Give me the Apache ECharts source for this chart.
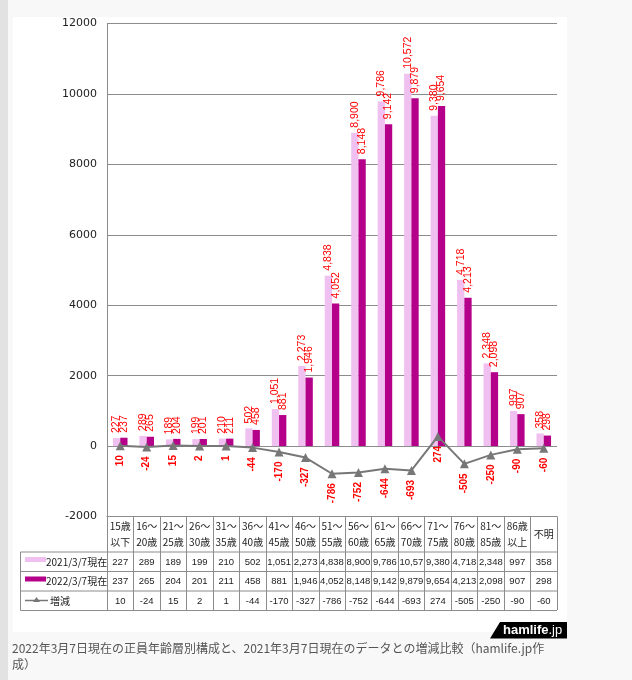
<!DOCTYPE html>
<html><head><meta charset="utf-8">
<script src="https://cdn.jsdelivr.net/npm/echarts@6/dist/echarts.min.js"></script>
<style>
html,body{margin:0;padding:0;background:#f8f8f8;}
#strip{position:absolute;left:0;top:0;width:8px;height:680px;background:#e2e2e2;}
#panel{position:absolute;left:13px;top:17px;width:554px;height:615px;background:#ffffff;}
#chart{position:absolute;left:0;top:0;width:632px;height:680px;}
</style></head>
<body>
<div id="strip"></div><div id="panel"></div><div id="chart"></div>
<script>
const categories = ['15歳\n以下','16～\n20歳','21～\n25歳','26～\n30歳','31～\n35歳','36～\n40歳','41～\n45歳','46～\n50歳','51～\n55歳','56～\n60歳','61～\n65歳','66～\n70歳','71～\n75歳','76～\n80歳','81～\n85歳','86歳\n以上','不明'];
const v2021 = [227,289,189,199,210,502,1051,2273,4838,8900,9786,10572,9380,4718,2348,997,358];
const v2022 = [237,265,204,201,211,458,881,1946,4052,8148,9142,9879,9654,4213,2098,907,298];
const diff = [10,-24,15,2,1,-44,-170,-327,-786,-752,-644,-693,274,-505,-250,-90,-60];
const seriesNames = ['2021/3/7現在','2022/3/7現在','増減'];
const yMin = -2000, yMax = 12000, yStep = 2000;
const caption = '2022年3月7日現在の正員年齢層別構成と、2021年3月7日現在のデータとの増減比較（hamlife.jp作\n成）';

const fmt = v => v.toLocaleString('en-US');
const PINK = '#f0c0f0', MAG = '#b5008a', GREY = '#777777', LINE = '#8c8c8c';
const CJK = '"Noto Sans CJK JP", sans-serif';
const LIB = '"Liberation Sans", sans-serif';

const chart = echarts.init(document.getElementById('chart'), null, {renderer:'canvas'});

function rowAxis(values, offset){
  return {
    type:'category', data: values.map(fmt), position:'bottom', offset: offset, gridIndex:0,
    axisLine:{show:false}, axisTick:{show:false}, splitLine:{show:false},
    axisLabel:{interval:0, margin:0, verticalAlign:'middle', color:'#222', fontSize:9.5, fontFamily:LIB,
      width:27, overflow:'truncate', ellipsis:''}
  };
}

const option = {
  animation:false,
  backgroundColor:'transparent',
  grid:{left:107, right:75, top:23.5, bottom:163.5, containLabel:false},
  xAxis:[
    {type:'category', data:categories, position:'bottom',
     axisLine:{show:true, onZero:false, lineStyle:{color:LINE, width:1}},
     axisTick:{show:true, length:93.5, interval:0, lineStyle:{color:LINE, width:1}},
     axisLabel:{interval:0, margin:17.5, verticalAlign:'middle', lineHeight:16, color:'#222', fontSize:10, fontFamily:CJK},
     splitLine:{show:false}},
    rowAxis(v2021, 45.5),
    rowAxis(v2022, 65),
    rowAxis(diff, 84.5)
  ],
  yAxis:{type:'value', min:yMin, max:yMax, interval:yStep,
    axisLine:{show:true, lineStyle:{color:LINE, width:1}},
    axisTick:{show:false},
    axisLabel:{margin:10, color:'#222', fontSize:11, fontFamily:'"DejaVu Sans", sans-serif', formatter:v=>String(v)},
    splitLine:{show:true, lineStyle:{color:LINE, width:1}}},
  series:[
    {name:seriesNames[0], type:'bar', data:v2021, barGap:'0%', barCategoryGap:'45%',
     itemStyle:{color:PINK},
     label:{show:true, position:'top', rotate:90, align:'left', verticalAlign:'middle', distance:5,
       color:'#ff0000', fontSize:10.5, fontFamily:LIB, formatter:p=>fmt(p.value)}},
    {name:seriesNames[1], type:'bar', data:v2022, barGap:'0%', barCategoryGap:'45%',
     itemStyle:{color:MAG},
     label:{show:true, position:'top', rotate:90, align:'left', verticalAlign:'middle', distance:5,
       color:'#ff0000', fontSize:10.5, fontFamily:LIB, formatter:p=>fmt(p.value)}},
    {name:seriesNames[2], type:'line', data:diff, z:5,
     symbol:'triangle', symbolSize:9, itemStyle:{color:GREY}, lineStyle:{color:GREY, width:2},
     label:{show:true, position:'bottom', rotate:90, align:'right', verticalAlign:'middle', distance:5,
       color:'#ff0000', fontSize:10, fontWeight:'bold', fontFamily:LIB}}
  ],
  graphic:[
    {type:'line', shape:{x1:20.5, y1:552, x2:557, y2:552}, style:{stroke:LINE, lineWidth:1}},
    {type:'line', shape:{x1:20.5, y1:571.5, x2:557, y2:571.5}, style:{stroke:LINE, lineWidth:1}},
    {type:'line', shape:{x1:20.5, y1:591, x2:557, y2:591}, style:{stroke:LINE, lineWidth:1}},
    {type:'line', shape:{x1:20.5, y1:610.5, x2:557, y2:610.5}, style:{stroke:LINE, lineWidth:1}},
    {type:'line', shape:{x1:20.5, y1:552, x2:20.5, y2:610.5}, style:{stroke:LINE, lineWidth:1}},
    {type:'rect', shape:{x:25, y:557, width:21, height:5}, style:{fill:PINK}},
    {type:'text', x:46, y:562, style:{text:seriesNames[0], fill:'#222', font:'10px "Noto Sans CJK JP"', textVerticalAlign:'middle'}},
    {type:'rect', shape:{x:25, y:576.5, width:21, height:5}, style:{fill:MAG}},
    {type:'text', x:46, y:581.5, style:{text:seriesNames[1], fill:'#222', font:'10px "Noto Sans CJK JP"', textVerticalAlign:'middle'}},
    {type:'line', shape:{x1:25, y1:600.5, x2:48, y2:600.5}, style:{stroke:GREY, lineWidth:1.5}},
    {type:'polygon', shape:{points:[[36.5,597],[40,602],[33,602]]}, style:{fill:GREY}},
    {type:'text', x:50, y:601, style:{text:seriesNames[2], fill:'#222', font:'10px "Noto Sans CJK JP"', textVerticalAlign:'middle'}},
    {type:'polygon', shape:{points:[[490,638.5],[500,622],[567,622],[567,638.5]]}, style:{fill:'#000'}},
    {type:'text', x:503, y:630.5, style:{text:'{a|hamlife}{b|.jp}', textVerticalAlign:'middle',
      rich:{a:{fill:'#fff', color:'#fff', fontSize:13, fontWeight:'bold', fontFamily:LIB},
            b:{fill:'#fff', color:'#fff', fontSize:13, fontFamily:LIB}}}},
    {type:'text', x:12, y:640, style:{text:caption, fill:'#555', font:'12px "Noto Sans CJK JP"', lineHeight:16, textVerticalAlign:'top'}}
  ]
};
chart.setOption(option);
</script>
</body></html>
